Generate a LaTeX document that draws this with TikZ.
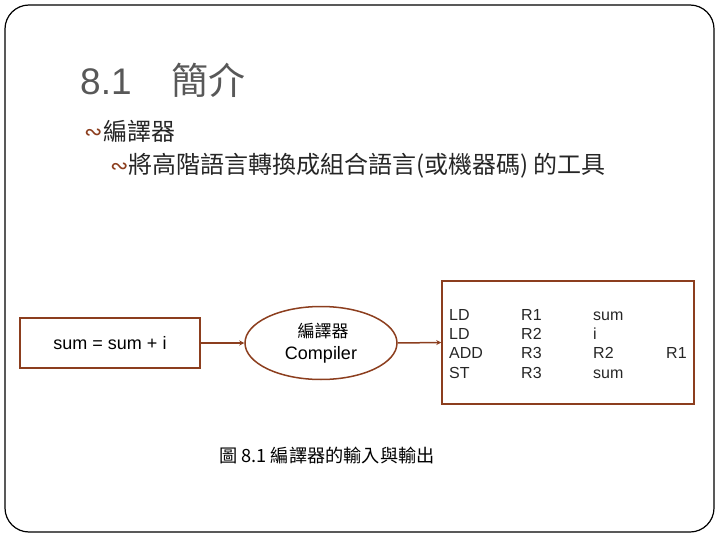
\documentclass[tikz,border=0pt]{standalone}
\usepackage{fontspec}
\setmainfont{Liberation Sans}
\newfontfamily\cjk{Noto Sans CJK TC}
\newfontfamily\djv{DejaVu Sans}
\usetikzlibrary{shapes.geometric,arrows.meta}
\definecolor{brn}{RGB}{140,62,30}
\definecolor{ttl}{RGB}{88,88,88}
\begin{document}
\begin{tikzpicture}[x=1pt,y=-1pt,
  txt/.style={inner sep=0pt, anchor=base west},
  bul/.style={inner sep=0pt, anchor=west, text=brn, font=\djv\fontsize{22}{24}\selectfont},
  boxed/.style={draw=brn, line width=1.5pt, inner sep=0pt},
  conn/.style={draw=brn, line width=1.5pt, -{Stealth[length=5pt,width=5pt]}},
  asm/.style={inner sep=0pt, anchor=base west, font=\fontsize{16}{18}\selectfont, text=black!85}]
\useasboundingbox (0,0) rectangle (720,540);
\draw[line width=1.2pt, rounded corners=24pt] (5,5) rectangle (714,532);

% title
\node[txt, text=ttl, font=\fontsize{37}{40}\selectfont] (t1) at (80,95) {8.1};
\node[txt, text=ttl, font=\cjk\fontsize{37}{40}\selectfont] (t2) at (171,95) {簡介};

% bullets
\node[bul] (b1) at (84,134) {∾};
\node[txt, text=black!85, font=\cjk\fontsize{24}{26}\selectfont] (l1) at (103,141) {編譯器};
\node[bul] (b2) at (110,168) {∾};
\node[txt, text=black!85, font=\cjk\fontsize{24}{26}\selectfont] (l2) at (128,174) {將高階語言轉換成組合語言(或機器碼) 的工具};

% diagram
\node[boxed, minimum width=180pt, minimum height=50pt, font=\fontsize{18}{20}\selectfont] (src) at (110,343) {sum = sum + i};
\node[boxed, ellipse, minimum width=152pt, minimum height=73pt] (comp) at (321,343) {};
\node[inner sep=0pt, font=\cjk\fontsize{17}{19}\selectfont] (compa) at (323,331) {編譯器};
\node[inner sep=0pt, font=\fontsize{18}{20}\selectfont] (compb) at (321,355) {Compiler};
\node[boxed, minimum width=252pt, minimum height=123pt] (out) at (568,342.5) {};

\draw[conn] (src.east) -- (comp.west);
\draw[conn] (comp.east) -- (out.west);

% assembly
\node[asm] (a11) at (449,320) {LD};
\node[asm] (a12) at (521,320) {R1};
\node[asm] (a13) at (593,320) {sum};
\node[asm] (a21) at (449,339) {LD};
\node[asm] (a22) at (521,339) {R2};
\node[asm] (a23) at (593,339) {i};
\node[asm] (a31) at (449,358) {ADD};
\node[asm] (a32) at (521,358) {R3};
\node[asm] (a33) at (593,358) {R2};
\node[asm] (a34) at (666,358) {R1};
\node[asm] (a41) at (449,378) {ST};
\node[asm] (a42) at (521,378) {R3};
\node[asm] (a43) at (593,378) {sum};

% caption
\node[inner sep=0pt, font=\cjk\fontsize{18.2}{21}\selectfont] (cap) at (327,456) {圖 8.1 編譯器的輸入與輸出};
\end{tikzpicture}
\end{document}
